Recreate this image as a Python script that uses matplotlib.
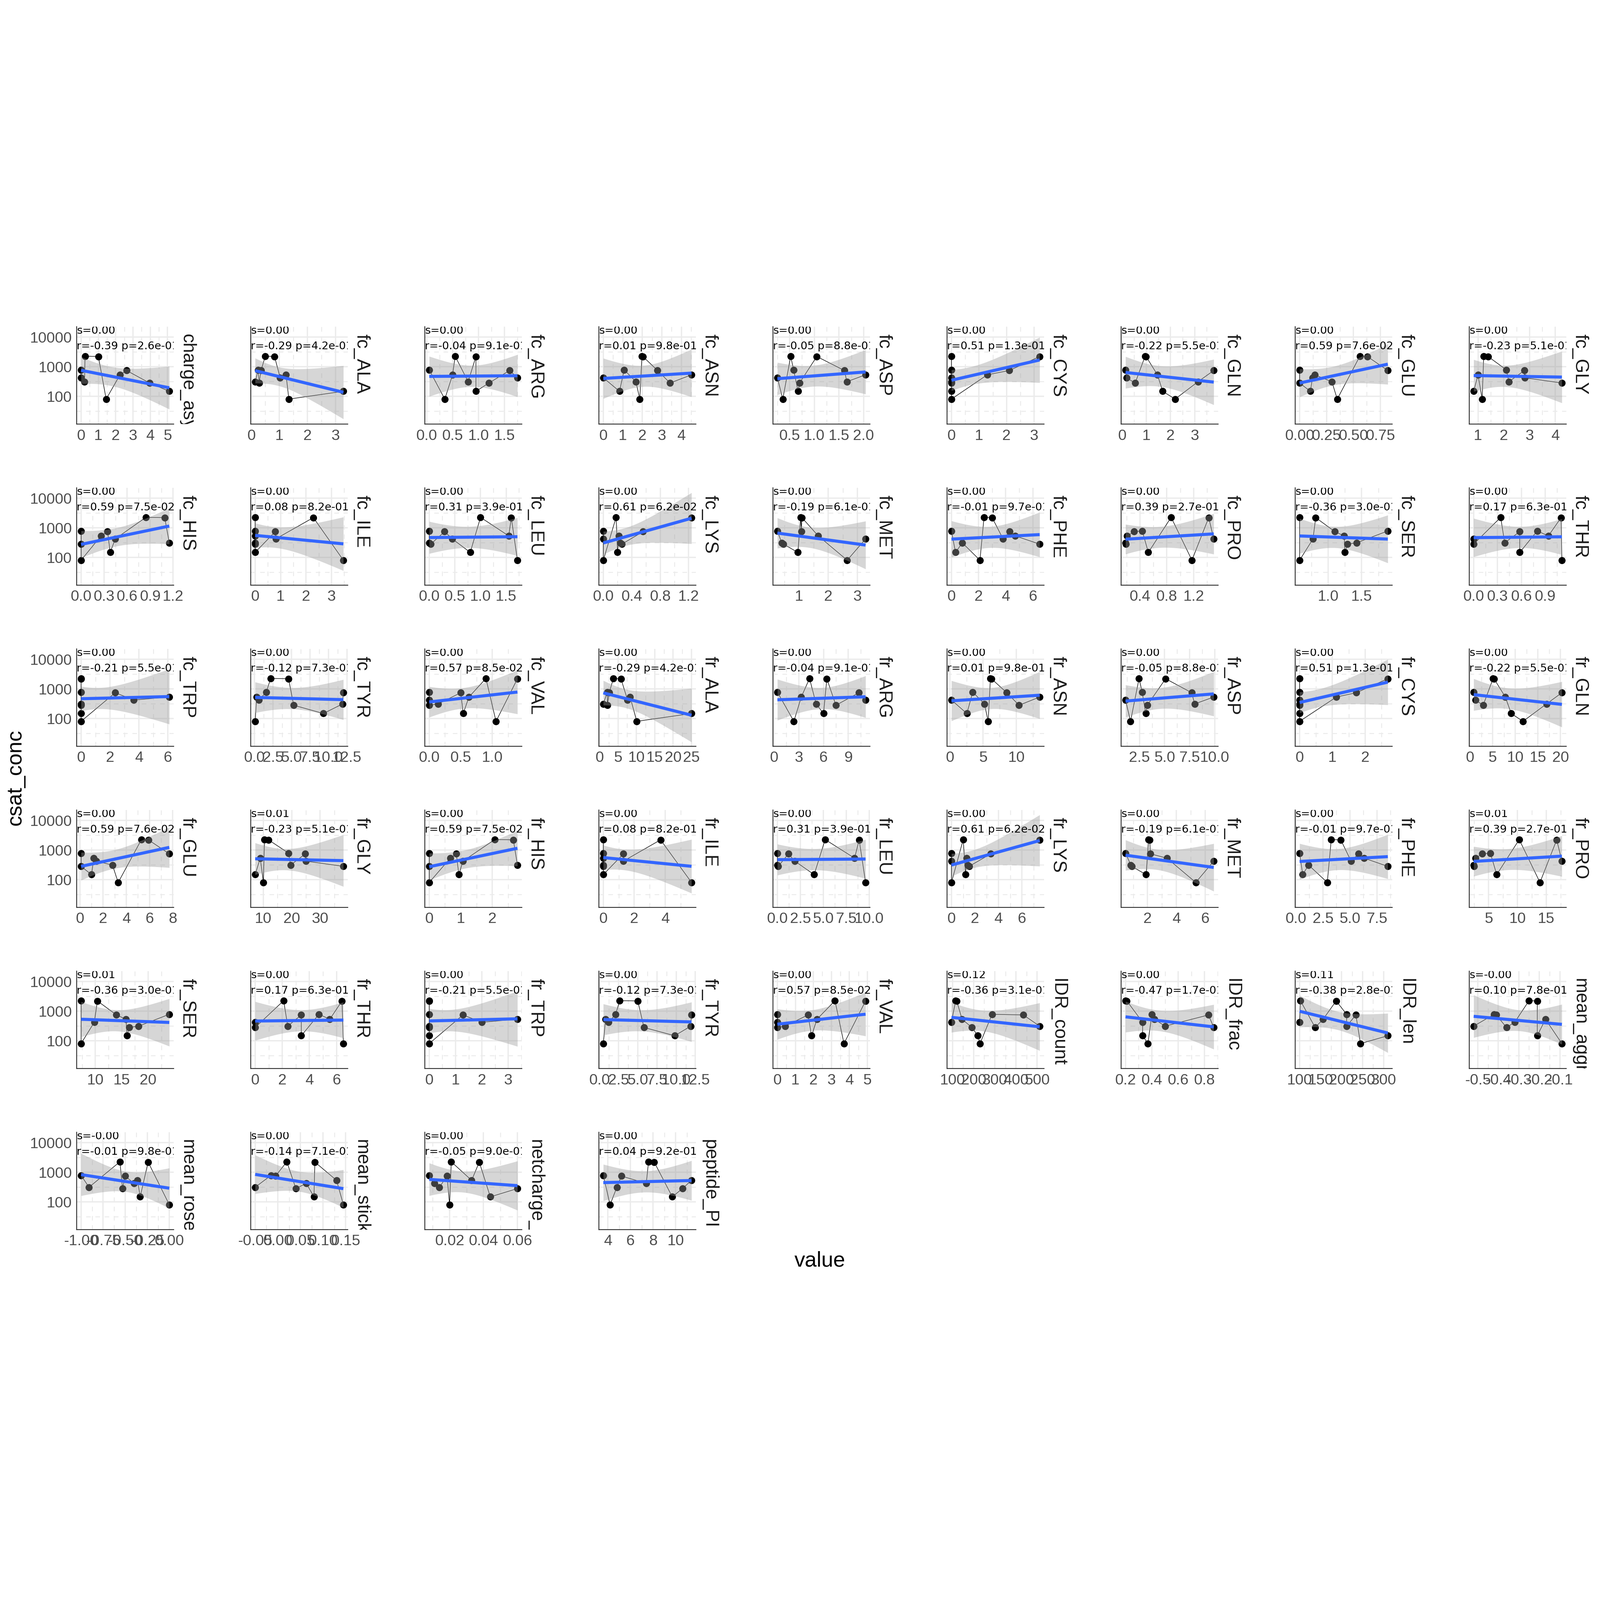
import numpy as np
import matplotlib
matplotlib.use("Agg")
import matplotlib.pyplot as plt
import matplotlib.transforms as mtransforms
from matplotlib.patches import Rectangle
from matplotlib.ticker import FixedLocator, NullFormatter

# csat_conc of the ten constructs, same order in every facet
CSAT_CONC = [2250, 2200, 780, 740, 530, 420, 310, 280, 147, 80]

CHARGE_ASY = [0.23, 1.0, 0.0, 2.63, 2.25, 0.0, 0.2, 3.96, 5.1, 1.45]
FC_ALA = [0.5, 0.83, 0.25, 0.35, 1.24, 1.03, 0.14, 0.28, 3.28, 1.34]
FC_ARG = [0.55, 0.95, 0.05, 1.6, 0.5, 1.75, 0.8, 1.2, 0.95, 0.35]
FC_ASN = [1.98, 2.03, 1.07, 2.78, 4.52, 0.0, 1.67, 3.42, 0.83, 1.87]
FC_ASP = [0.52, 1.05, 0.58, 1.61, 2.04, 0.25, 1.66, 0.70, 0.67, 0.36]
FC_CYS = [0.0, 3.2, 0.0, 2.1, 1.3, 0.0, 0.0, 0.0, 0.0, 0.0]
FC_GLN = [0.95, 0.99, 0.14, 3.79, 1.46, 0.18, 3.14, 0.54, 1.68, 2.19]
FC_GLU = [0.56, 0.63, 0.0, 0.82, 0.14, 0.12, 0.30, 0.0, 0.10, 0.35]
FC_GLY = [1.22, 1.39, 2.1, 2.8, 1.0, 2.82, 2.2, 4.26, 0.83, 1.16]
FC_HIS = [0.845, 1.09, 0.0, 0.345, 0.26, 0.445, 1.15, 0.0, 0.38, 0.0]
FC_ILE = [0.0, 2.29, 0.0, 0.79, 0.0, 0.81, 0.0, 0.0, 0.0, 3.47]
FC_LEU = [1.0, 1.6, 0.0, 0.3, 1.55, 0.45, 0.0, 0.03, 0.8, 1.72]
FC_LYS = [0.18, 1.24, 0.0, 0.56, 0.22, 0.0, 0.24, 0.26, 0.2, 0.0]
FC_MET = [1.06, 1.1, 0.26, 1.08, 1.66, 3.28, 0.41, 0.47, 0.96, 2.65]
FC_PHE = [2.4, 3.0, 0.0, 4.3, 4.7, 3.8, 0.8, 6.5, 0.3, 2.1]
FC_PRO = [0.865, 1.425, 0.435, 0.315, 0.21, 1.5, 0.185, 0.19, 0.525, 1.175]
FC_SER = [0.575, 0.815, 1.89, 1.1, 1.24, 0.775, 1.425, 1.29, 1.25, 0.575]
FC_THR = [0.34, 1.1, 0.8, 0.58, 0.94, 0.0, 0.39, 0.0, 0.58, 1.11]
FC_TRP = [0.0, 0.0, 0.0, 2.36, 6.1, 3.65, 0.0, 0.0, 0.0, 0.0]
FC_TYR = [2.2, 4.6, 1.6, 12.0, 0.3, 0.6, 11.9, 5.3, 9.3, 0.1]
FC_VAL = [0.9, 1.4, 0.0, 0.5, 0.63, 0.0, 0.14, 0.0, 0.54, 1.06]
FR_ALA = [3.75, 5.8, 2.1, 2.6, 8.3, 7.6, 1.0, 2.1, 25.0, 10.1]
FR_ARG = [4.3, 6.4, 0.4, 10.3, 3.3, 11.1, 5.1, 7.5, 6.0, 2.4]
FR_ASN = [6.1, 6.25, 3.44, 8.56, 13.5, 0.24, 5.2, 10.4, 2.56, 5.76]
FR_ASP = [2.45, 5.1, 2.76, 7.7, 9.9, 1.1, 8.0, 3.27, 3.12, 1.6]
FR_CYS = [0.0, 2.69, 0.0, 1.73, 1.12, 0.0, 0.0, 0.0, 0.0, 0.0]
FR_GLN = [5.1, 5.3, 0.8, 20.3, 7.8, 1.2, 16.9, 2.9, 9.1, 11.7]
FR_GLU = [5.3, 5.9, 0.1, 7.7, 1.2, 1.4, 2.8, 0.1, 1.0, 3.3]
FR_GLY = [10.4, 11.8, 18.9, 24.8, 8.9, 25.0, 19.6, 38.2, 7.1, 10.0]
FR_HIS = [2.08, 2.67, 0.0, 0.86, 0.67, 1.07, 2.8, 0.0, 0.94, 0.0]
FR_ILE = [0.0, 3.7, 0.0, 1.3, 0.0, 1.3, 0.0, 0.0, 0.0, 5.7]
FR_LEU = [5.2, 8.9, 0.0, 1.2, 8.4, 1.9, 0.0, 0.1, 4.0, 9.6]
FR_LYS = [1.0, 7.5, 0.0, 3.35, 1.3, 0.0, 1.4, 1.5, 1.2, 0.0]
FR_MET = [2.08, 2.15, 0.47, 2.2, 3.35, 6.6, 0.84, 0.9, 1.9, 5.35]
FR_PHE = [3.27, 4.15, 0.34, 5.8, 6.3, 5.1, 1.17, 8.5, 0.63, 2.9]
FR_PRO = [10.3, 16.8, 5.3, 3.9, 2.7, 17.7, 2.4, 2.5, 6.4, 13.9]
FR_SER = [7.3, 10.4, 24.0, 14.0, 15.8, 9.8, 18.2, 16.4, 16.0, 7.3]
FR_THR = [2.1, 6.4, 4.7, 3.4, 5.5, 0.0, 2.4, 0.0, 3.4, 6.5]
FR_TRP = [0.0, 0.0, 0.0, 1.28, 3.35, 2.0, 0.0, 0.0, 0.0, 0.0]
FR_TYR = [2.65, 5.0, 2.1, 12.0, 0.8, 1.2, 11.9, 5.8, 9.8, 0.5]
FR_VAL = [3.2, 4.9, 0.0, 1.7, 2.2, 0.0, 0.43, 0.0, 1.9, 3.7]
IDR_COUNT = [115, 120, 287, 435, 145, 95, 512, 192, 220, 230]
IDR_FRAC = [0.2, 0.21, 0.4, 0.83, 0.42, 0.33, 0.5, 0.87, 0.33, 0.37]
IDR_LEN = [102, 187, 212, 234, 156, 100, 212, 137, 310, 245]
MEAN_AGGR = [-0.25, -0.21, -0.42, -0.41, -0.17, -0.32, -0.52, -0.36, -0.21, -0.09]
MEAN_ROSE = [-0.56, -0.24, -1.0, -0.5, -0.36, -0.4, -0.91, -0.53, -0.33, 0.0]
MEAN_STICK = [0.02, 0.082, -0.015, -0.005, 0.13, 0.063, -0.05, 0.04, 0.08, 0.145]
NETCHARGE = [0.021, 0.0375, 0.008, 0.0185, 0.033, 0.011, 0.014, 0.06, 0.044, 0.02]
PEPTIDE_PI = [7.6, 8.1, 3.6, 5.2, 11.4, 7.4, 4.8, 10.6, 9.7, 4.2]

FEATURE_NAMES = [
    "charge_asymmetry", "fc_ALA", "fc_ARG", "fc_ASN", "fc_ASP", "fc_CYS", "fc_GLN", "fc_GLU", "fc_GLY",
    "fc_HIS", "fc_ILE", "fc_LEU", "fc_LYS", "fc_MET", "fc_PHE", "fc_PRO", "fc_SER", "fc_THR",
    "fc_TRP", "fc_TYR", "fc_VAL", "fr_ALA", "fr_ARG", "fr_ASN", "fr_ASP", "fr_CYS", "fr_GLN",
    "fr_GLU", "fr_GLY", "fr_HIS", "fr_ILE", "fr_LEU", "fr_LYS", "fr_MET", "fr_PHE", "fr_PRO",
    "fr_SER", "fr_THR", "fr_TRP", "fr_TYR", "fr_VAL", "IDR_count", "IDR_frac", "IDR_len", "mean_aggregation",
    "mean_rosetta", "mean_stickiness", "netcharge_per_residue", "peptide_PI",
]
FEATURE_VALUES = [
    CHARGE_ASY, FC_ALA, FC_ARG, FC_ASN, FC_ASP, FC_CYS, FC_GLN, FC_GLU, FC_GLY,
    FC_HIS, FC_ILE, FC_LEU, FC_LYS, FC_MET, FC_PHE, FC_PRO, FC_SER, FC_THR,
    FC_TRP, FC_TYR, FC_VAL, FR_ALA, FR_ARG, FR_ASN, FR_ASP, FR_CYS, FR_GLN,
    FR_GLU, FR_GLY, FR_HIS, FR_ILE, FR_LEU, FR_LYS, FR_MET, FR_PHE, FR_PRO,
    FR_SER, FR_THR, FR_TRP, FR_TYR, FR_VAL, IDR_COUNT, IDR_FRAC, IDR_LEN, MEAN_AGGR,
    MEAN_ROSE, MEAN_STICK, NETCHARGE, PEPTIDE_PI,
]

S_TEXT = ["0.00"] * 28 + ["0.01"] + ["0.00"] * 6 + ["0.01", "0.01"] + ["0.00"] * 4 + \
         ["0.12", "0.00", "0.11", "-0.00", "-0.00", "0.00", "0.00", "0.00"]
R_TEXT = [
    "-0.39", "-0.29", "-0.04", "0.01", "-0.05", "0.51", "-0.22", "0.59", "-0.23",
    "0.59", "0.08", "0.31", "0.61", "-0.19", "-0.01", "0.39", "-0.36", "0.17",
    "-0.21", "-0.12", "0.57", "-0.29", "-0.04", "0.01", "-0.05", "0.51", "-0.22",
    "0.59", "-0.23", "0.59", "0.08", "0.31", "0.61", "-0.19", "-0.01", "0.39",
    "-0.36", "0.17", "-0.21", "-0.12", "0.57", "-0.36", "-0.47", "-0.38", "0.10",
    "-0.01", "-0.14", "-0.05", "0.04",
]
P_TEXT = [
    "2.6e-01", "4.2e-01", "9.1e-01", "9.8e-01", "8.8e-01", "1.3e-01", "5.5e-01", "7.6e-02", "5.1e-01",
    "7.5e-02", "8.2e-01", "3.9e-01", "6.2e-02", "6.1e-01", "9.7e-01", "2.7e-01", "3.0e-01", "6.3e-01",
    "5.5e-01", "7.3e-01", "8.5e-02", "4.2e-01", "9.1e-01", "9.8e-01", "8.8e-01", "1.3e-01", "5.5e-01",
    "7.6e-02", "5.1e-01", "7.5e-02", "8.2e-01", "3.9e-01", "6.2e-02", "6.1e-01", "9.7e-01", "2.7e-01",
    "3.0e-01", "6.3e-01", "5.5e-01", "7.3e-01", "8.5e-02", "3.1e-01", "1.7e-01", "2.8e-01", "7.8e-01",
    "9.8e-01", "7.1e-01", "9.0e-01", "9.2e-01",
]

X_TICKS = [
    ["0", "1", "2", "3", "4", "5"], ["0", "1", "2", "3"], ["0.0", "0.5", "1.0", "1.5"],
    ["0", "1", "2", "3", "4"], ["0.5", "1.0", "1.5", "2.0"], ["0", "1", "2", "3"],
    ["0", "1", "2", "3"], ["0.00", "0.25", "0.50", "0.75"], ["1", "2", "3", "4"],
    ["0.0", "0.3", "0.6", "0.9", "1.2"], ["0", "1", "2", "3"], ["0.0", "0.5", "1.0", "1.5"],
    ["0.0", "0.4", "0.8", "1.2"], ["1", "2", "3"], ["0", "2", "4", "6"],
    ["0.4", "0.8", "1.2"], ["1.0", "1.5"], ["0.0", "0.3", "0.6", "0.9"],
    ["0", "2", "4", "6"], ["0.0", "2.5", "5.0", "7.5", "10.0", "12.5"], ["0.0", "0.5", "1.0"],
    ["0", "5", "10", "15", "20", "25"], ["0", "3", "6", "9"], ["0", "5", "10"],
    ["2.5", "5.0", "7.5", "10.0"], ["0", "1", "2"], ["0", "5", "10", "15", "20"],
    ["0", "2", "4", "6", "8"], ["10", "20", "30"], ["0", "1", "2"],
    ["0", "2", "4"], ["0.0", "2.5", "5.0", "7.5", "10.0"], ["0", "2", "4", "6"],
    ["2", "4", "6"], ["0.0", "2.5", "5.0", "7.5"], ["5", "10", "15"],
    ["10", "15", "20"], ["0", "2", "4", "6"], ["0", "1", "2", "3"],
    ["0.0", "2.5", "5.0", "7.5", "10.0", "12.5"], ["0", "1", "2", "3", "4", "5"],
    ["100", "200", "300", "400", "500"], ["0.2", "0.4", "0.6", "0.8"],
    ["100", "150", "200", "250", "300"], ["-0.5", "-0.4", "-0.3", "-0.2", "-0.1"],
    ["-1.00", "-0.75", "-0.50", "-0.25", "0.00"], ["-0.05", "0.00", "0.05", "0.10", "0.15"],
    ["0.02", "0.04", "0.06"], ["4", "6", "8", "10"],
]

Y_TICKS = [100, 1000, 10000]
Y_TICK_LABELS = ["100", "1000", "10000"]

# layout in output pixels (4320 x 4320 canvas)
SIZE = 4320
PANEL_W, PANEL_H = 262, 263
COL_X0, COL_STEP = 207, 470
ROW_Y0, ROW_STEP = 882, 435
N_COLS = 9

GRID = "#EBEBEB"
AXIS_LINE = "#262626"
TICK_TEXT = "#4D4D4D"
STRIP_TEXT = "#1A1A1A"
SMOOTH_BLUE = "#3366FF"
RIBBON = "#999999"

T_975_DF8 = 2.306  # t quantile for 10 points, 95% band


def lm_band(x, y):
    ly = np.log10(y)
    slope, icpt = np.polyfit(x, ly, 1)
    xs = np.linspace(x.min(), x.max(), 80)
    fit = icpt + slope * xs
    resid = ly - (icpt + slope * x)
    n = len(x)
    sigma = np.sqrt(np.sum(resid ** 2) / (n - 2))
    sxx = np.sum((x - x.mean()) ** 2)
    se = sigma * np.sqrt(1.0 / n + (xs - x.mean()) ** 2 / sxx)
    return xs, 10 ** fit, 10 ** (fit - T_975_DF8 * se), 10 ** (fit + T_975_DF8 * se)


def draw_panel(fig, idx):
    row, col = divmod(idx, N_COLS)
    left = (COL_X0 + col * COL_STEP) / SIZE
    bottom = 1 - (ROW_Y0 + row * ROW_STEP + PANEL_H) / SIZE
    ax = fig.add_axes([left, bottom, PANEL_W / SIZE, PANEL_H / SIZE])

    x = np.array(FEATURE_VALUES[idx], dtype=float)
    y = np.array(CSAT_CONC, dtype=float)
    order = np.argsort(x, kind="stable")

    ax.scatter(x, y, s=21, color="black", linewidths=0, zorder=2)
    ax.plot(x[order], y[order], color="black", linewidth=0.35, zorder=2.5)

    xs, fit, lo, hi = lm_band(x, y)
    ax.fill_between(xs, lo, hi, color=RIBBON, alpha=0.4, linewidth=0, zorder=3)
    ax.plot(xs, fit, color=SMOOTH_BLUE, linewidth=2.0, zorder=4, solid_capstyle="butt")

    ax.set_yscale("log")
    ax.set_ylim(10 ** 1.06, 10 ** 4.35)
    pad = 0.05 * (x.max() - x.min())
    ax.set_xlim(x.min() - pad, x.max() + pad)

    labels = X_TICKS[idx]
    ticks = [float(t) for t in labels]
    ax.set_xticks(ticks, labels)
    step = ticks[1] - ticks[0]
    lo_x, hi_x = ax.get_xlim()
    minors = [ticks[0] - step / 2 + k * step for k in range(len(ticks) + 1)]
    ax.xaxis.set_minor_locator(FixedLocator([m for m in minors if lo_x <= m <= hi_x]))

    ax.set_yticks(Y_TICKS, Y_TICK_LABELS if col == 0 else ["", "", ""])
    ax.yaxis.set_minor_locator(FixedLocator([10 ** 1.5, 10 ** 2.5, 10 ** 3.5]))
    ax.yaxis.set_minor_formatter(NullFormatter())

    ax.set_axisbelow(True)
    ax.grid(True, which="major", color=GRID, linewidth=0.85)
    ax.grid(True, which="minor", color=GRID, linewidth=0.6, linestyle=(0, (5, 5)))
    ax.tick_params(which="both", length=0, pad=3, labelsize=9.8, labelcolor=TICK_TEXT)

    for side in ("top", "right"):
        ax.spines[side].set_visible(False)
    for side in ("left", "bottom"):
        ax.spines[side].set_color(AXIS_LINE)
        ax.spines[side].set_linewidth(0.55)

    # stats text, clipped by the panel like in the original
    trans = mtransforms.blended_transform_factory(ax.transAxes, ax.transData)
    ax.text(0, 10 ** 4.21, f"s={S_TEXT[idx]}", transform=trans, ha="left", va="center",
            fontsize=7, family="DejaVu Sans", clip_on=True, zorder=6)
    ax.text(0, 10 ** 3.69, f"r={R_TEXT[idx]} p={P_TEXT[idx]}", transform=trans, ha="left",
            va="center", fontsize=7, family="DejaVu Sans", clip_on=True, zorder=6)

    # facet strip on the right, cut at the panel height
    strip = ax.text(1.053, 0.925, FEATURE_NAMES[idx], transform=ax.transAxes, rotation=270,
                    ha="left", va="top", fontsize=12, color=STRIP_TEXT, clip_on=True)
    strip.set_clip_path(Rectangle((1.0, 0.0), 0.6, 1.0, transform=ax.transAxes))


def main():
    plt.rcParams.update({
        "font.family": ["Liberation Sans", "DejaVu Sans"],
    })
    fig = plt.figure(figsize=(14.4, 14.4), dpi=300, facecolor="white")

    for idx in range(len(FEATURE_VALUES)):
        draw_panel(fig, idx)

    fig.text(2214 / SIZE, 1 - 3405 / SIZE, "value", ha="center", va="center", fontsize=13.8)
    fig.text(41 / SIZE, 1 - 2099 / SIZE, "csat_conc", ha="center", va="center",
             rotation=90, fontsize=13.8)

    fig.savefig("out.png", dpi=300, facecolor="white")
    plt.close(fig)


if __name__ == "__main__":
    main()
